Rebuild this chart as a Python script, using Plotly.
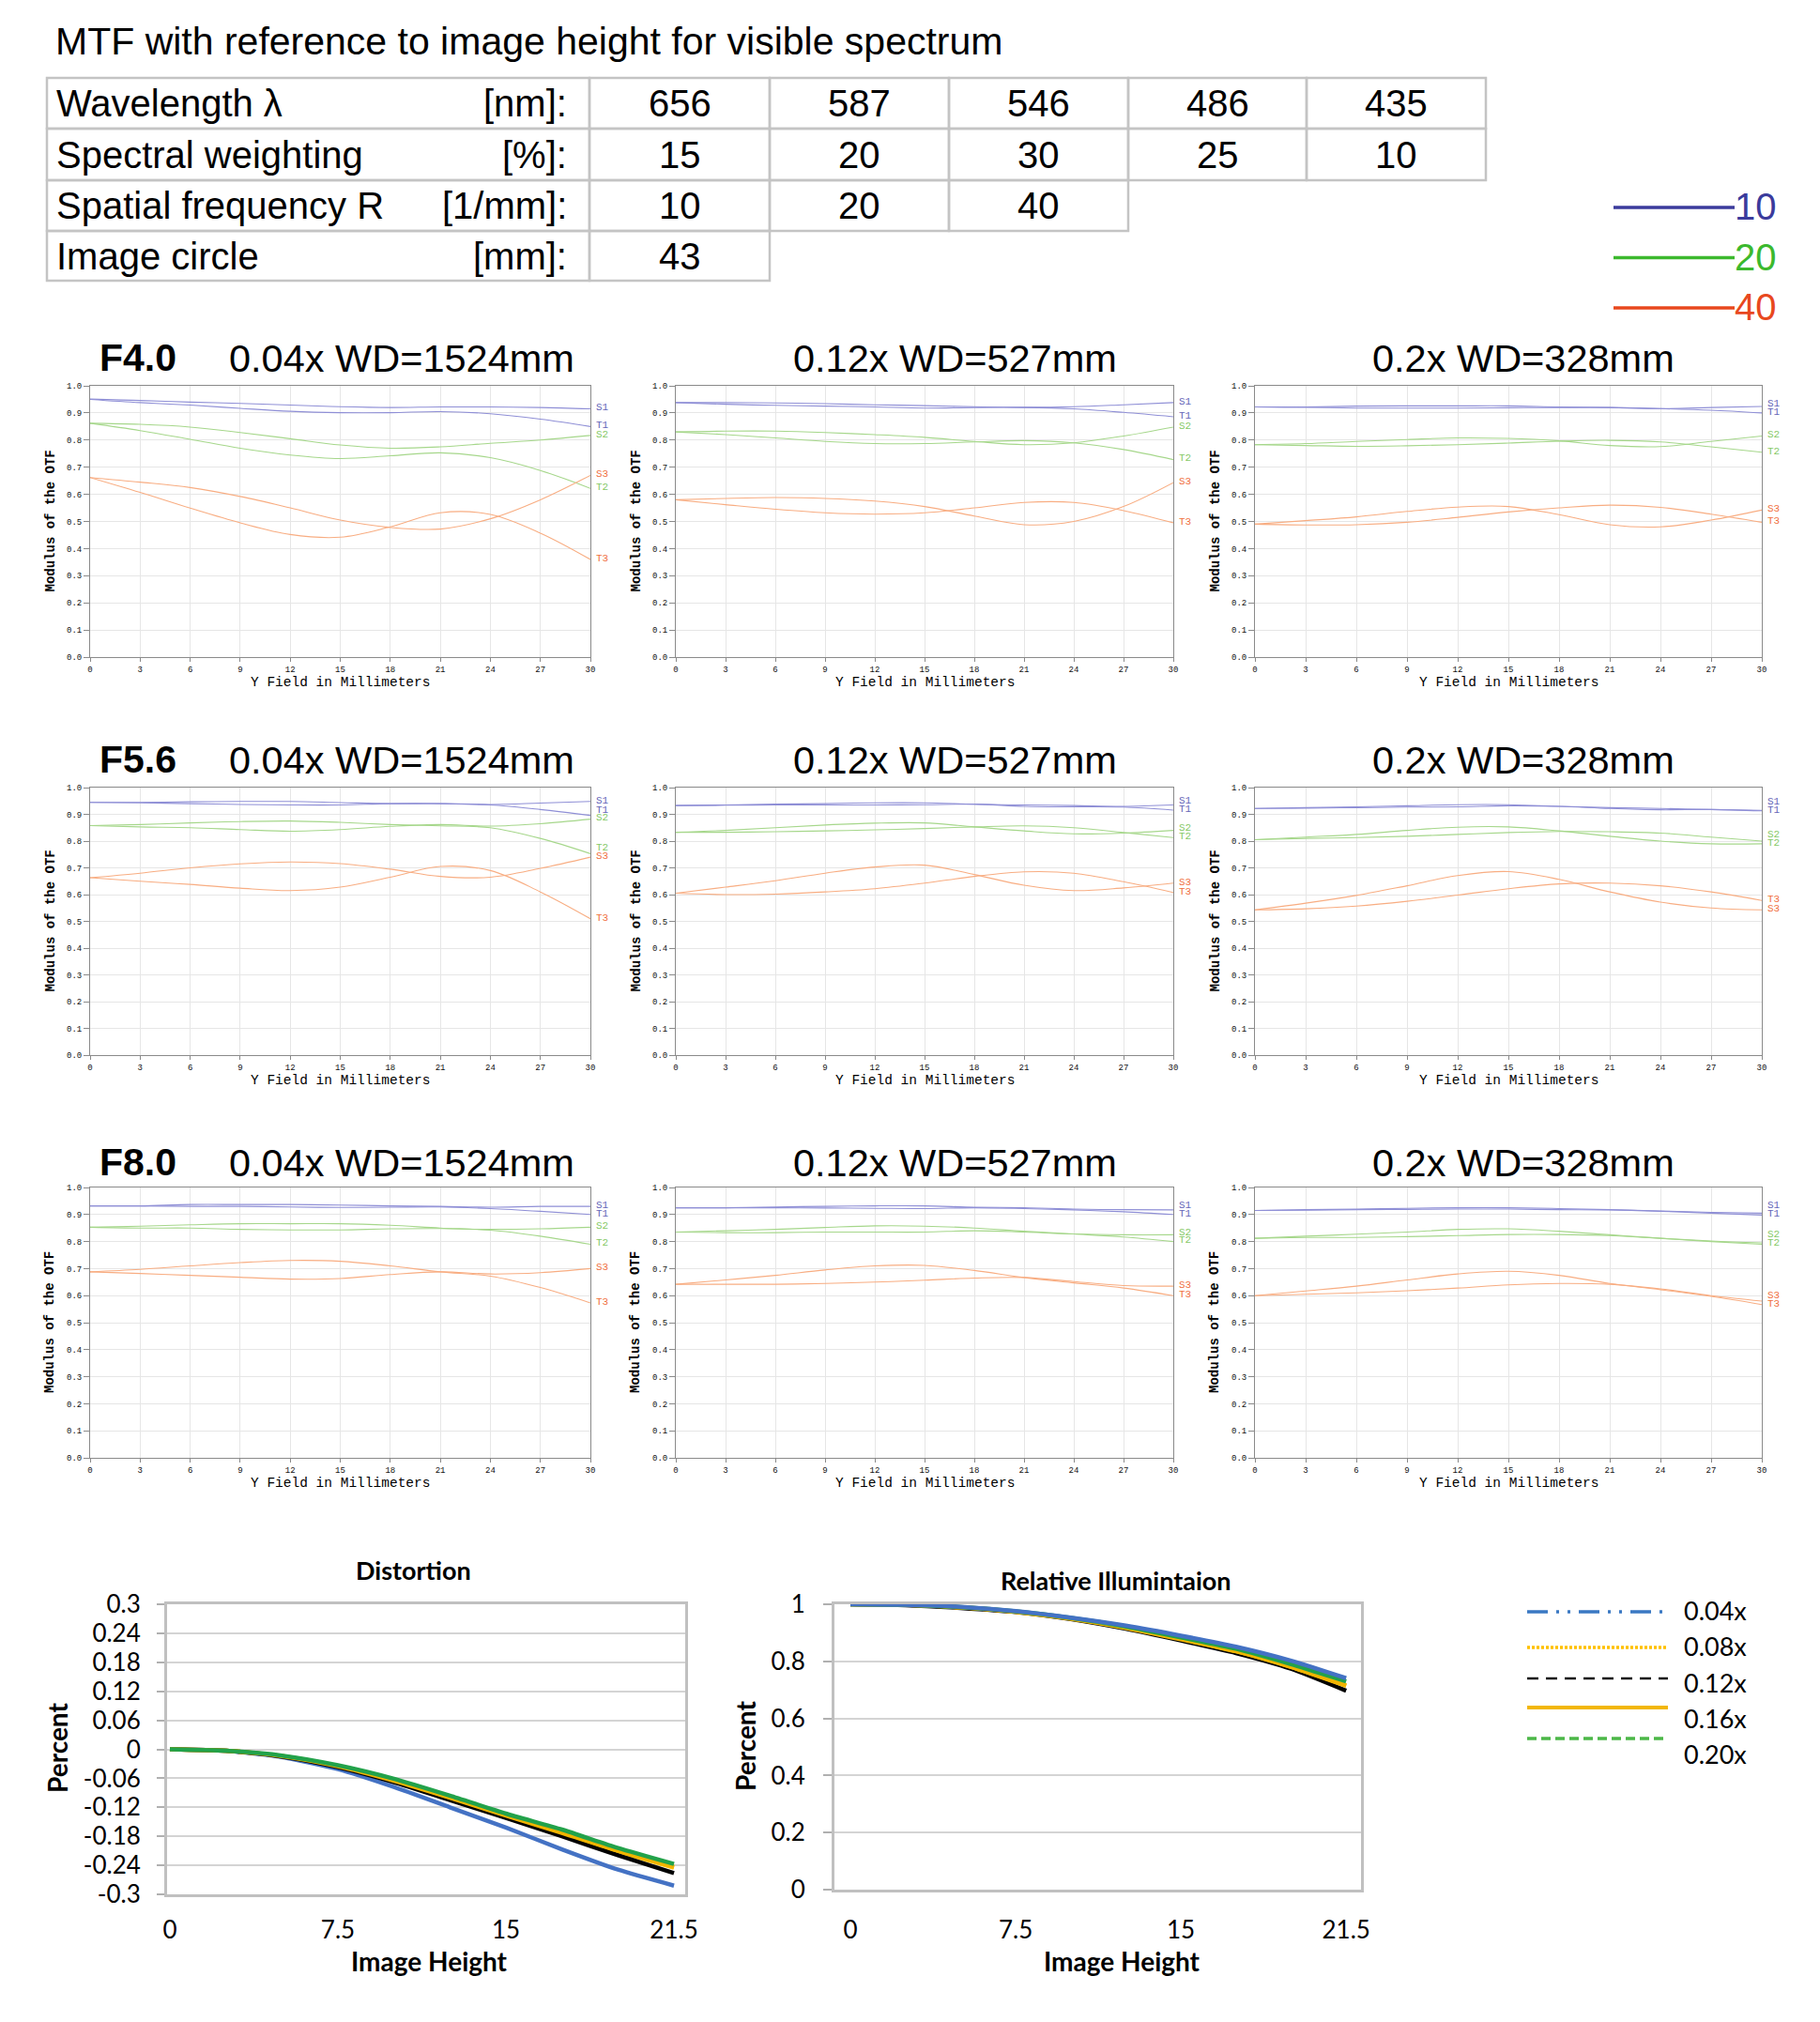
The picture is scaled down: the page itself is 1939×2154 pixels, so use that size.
import plotly.graph_objects as go

# ------------------------------------------------------------------ data
WAVELENGTHS = ["656", "587", "546", "486", "435"]
WEIGHTS = ["15", "20", "30", "25", "10"]
FREQS = ["10", "20", "40"]
IMAGE_CIRCLE = ["43"]
ROW_LABELS = ["Wavelength λ", "Spectral weighting", "Spatial frequency R", "Image circle"]
ROW_UNITS = ["[nm]:", "[%]:", "[1/mm]:", "[mm]:"]

F_NUMBERS = ["F4.0", "F5.6", "F8.0"]
MAGS = ["0.04x WD=1524mm", "0.12x WD=527mm", "0.2x WD=328mm"]
SERIES_NAMES = ["S1", "T1", "S2", "T2", "S3", "T3"]

FIELD_MM = [0, 3, 6, 9, 12, 15, 18, 21, 24, 27, 30]
MTF_X_TICKS = [0, 3, 6, 9, 12, 15, 18, 21, 24, 27, 30]

# F4.0  0.04x
F40_M04_S1 = [0.951, 0.946, 0.940, 0.935, 0.929, 0.923, 0.920, 0.922, 0.922, 0.920, 0.915]
F40_M04_T1 = [0.950, 0.938, 0.929, 0.917, 0.906, 0.901, 0.901, 0.905, 0.897, 0.877, 0.850]
F40_M04_S2 = [0.862, 0.858, 0.848, 0.828, 0.805, 0.782, 0.770, 0.775, 0.788, 0.800, 0.817]
F40_M04_T2 = [0.862, 0.835, 0.803, 0.770, 0.745, 0.732, 0.742, 0.753, 0.735, 0.688, 0.622]
F40_M04_S3 = [0.662, 0.645, 0.625, 0.592, 0.550, 0.505, 0.478, 0.472, 0.510, 0.580, 0.670]
F40_M04_T3 = [0.662, 0.607, 0.549, 0.495, 0.452, 0.442, 0.480, 0.532, 0.526, 0.457, 0.360]
# F4.0  0.12x
F40_M12_S1 = [0.938, 0.938, 0.937, 0.934, 0.930, 0.927, 0.923, 0.921, 0.923, 0.930, 0.938]
F40_M12_T1 = [0.938, 0.932, 0.928, 0.925, 0.922, 0.918, 0.920, 0.920, 0.915, 0.902, 0.886]
F40_M12_S2 = [0.830, 0.833, 0.833, 0.828, 0.820, 0.810, 0.795, 0.783, 0.790, 0.815, 0.848]
F40_M12_T2 = [0.830, 0.820, 0.808, 0.795, 0.787, 0.787, 0.793, 0.798, 0.790, 0.765, 0.728]
F40_M12_S3 = [0.580, 0.585, 0.588, 0.585, 0.575, 0.555, 0.520, 0.488, 0.500, 0.555, 0.643]
F40_M12_T3 = [0.580, 0.562, 0.545, 0.532, 0.527, 0.532, 0.550, 0.570, 0.570, 0.540, 0.495]
# F4.0  0.2x
F40_M20_S1 = [0.922, 0.922, 0.925, 0.926, 0.926, 0.926, 0.922, 0.920, 0.916, 0.920, 0.924]
F40_M20_T1 = [0.922, 0.921, 0.918, 0.918, 0.918, 0.919, 0.920, 0.920, 0.916, 0.910, 0.900]
F40_M20_S2 = [0.783, 0.787, 0.795, 0.802, 0.808, 0.806, 0.797, 0.780, 0.776, 0.795, 0.815]
F40_M20_T2 = [0.783, 0.780, 0.777, 0.779, 0.783, 0.789, 0.796, 0.799, 0.793, 0.775, 0.755]
F40_M20_S3 = [0.490, 0.503, 0.517, 0.537, 0.553, 0.555, 0.525, 0.488, 0.480, 0.505, 0.542]
F40_M20_T3 = [0.490, 0.487, 0.488, 0.497, 0.515, 0.535, 0.550, 0.560, 0.552, 0.527, 0.497]
# F5.6  0.04x
F56_M04_S1 = [0.945, 0.945, 0.947, 0.948, 0.948, 0.944, 0.940, 0.940, 0.937, 0.942, 0.948]
F56_M04_T1 = [0.945, 0.943, 0.940, 0.937, 0.935, 0.935, 0.940, 0.940, 0.935, 0.918, 0.896]
F56_M04_S2 = [0.858, 0.853, 0.850, 0.843, 0.837, 0.843, 0.855, 0.862, 0.856, 0.865, 0.882]
F56_M04_T2 = [0.858, 0.862, 0.868, 0.873, 0.875, 0.870, 0.862, 0.857, 0.850, 0.810, 0.753]
F56_M04_S3 = [0.663, 0.680, 0.700, 0.715, 0.722, 0.716, 0.695, 0.668, 0.665, 0.698, 0.740]
F56_M04_T3 = [0.663, 0.650, 0.638, 0.624, 0.615, 0.628, 0.665, 0.705, 0.690, 0.610, 0.510]
# F5.6  0.12x
F56_M12_S1 = [0.933, 0.935, 0.938, 0.940, 0.943, 0.943, 0.938, 0.935, 0.933, 0.930, 0.935]
F56_M12_T1 = [0.933, 0.934, 0.935, 0.935, 0.935, 0.936, 0.938, 0.930, 0.928, 0.927, 0.916]
F56_M12_S2 = [0.833, 0.840, 0.850, 0.860, 0.867, 0.868, 0.853, 0.838, 0.827, 0.830, 0.840]
F56_M12_T2 = [0.833, 0.833, 0.835, 0.838, 0.842, 0.847, 0.853, 0.857, 0.850, 0.832, 0.813]
F56_M12_S3 = [0.605, 0.628, 0.652, 0.680, 0.703, 0.710, 0.675, 0.635, 0.615, 0.625, 0.643]
F56_M12_T3 = [0.605, 0.600, 0.602, 0.610, 0.622, 0.643, 0.668, 0.685, 0.680, 0.648, 0.608]
# F5.6  0.2x
F56_M20_S1 = [0.922, 0.925, 0.928, 0.932, 0.936, 0.936, 0.930, 0.925, 0.922, 0.918, 0.915]
F56_M20_T1 = [0.922, 0.923, 0.925, 0.927, 0.928, 0.932, 0.930, 0.922, 0.917, 0.918, 0.913]
F56_M20_S2 = [0.805, 0.810, 0.813, 0.818, 0.825, 0.832, 0.836, 0.835, 0.830, 0.815, 0.800]
F56_M20_T2 = [0.805, 0.815, 0.825, 0.840, 0.852, 0.853, 0.838, 0.818, 0.800, 0.790, 0.790]
F56_M20_S3 = [0.543, 0.568, 0.597, 0.633, 0.671, 0.686, 0.657, 0.610, 0.572, 0.550, 0.543]
F56_M20_T3 = [0.543, 0.547, 0.557, 0.575, 0.598, 0.622, 0.640, 0.643, 0.633, 0.610, 0.578]
# F8.0  0.04x
F80_M04_S1 = [0.932, 0.932, 0.937, 0.937, 0.937, 0.935, 0.932, 0.930, 0.927, 0.930, 0.930]
F80_M04_T1 = [0.932, 0.932, 0.930, 0.930, 0.928, 0.926, 0.927, 0.928, 0.922, 0.912, 0.900]
F80_M04_S2 = [0.853, 0.850, 0.850, 0.845, 0.843, 0.843, 0.847, 0.848, 0.845, 0.847, 0.853]
F80_M04_T2 = [0.853, 0.857, 0.862, 0.866, 0.866, 0.866, 0.860, 0.850, 0.842, 0.820, 0.790]
F80_M04_S3 = [0.688, 0.682, 0.675, 0.668, 0.661, 0.663, 0.678, 0.688, 0.680, 0.685, 0.700]
F80_M04_T3 = [0.688, 0.697, 0.710, 0.722, 0.730, 0.727, 0.710, 0.688, 0.672, 0.630, 0.573]
# F8.0  0.12x
F80_M12_S1 = [0.925, 0.925, 0.928, 0.930, 0.932, 0.932, 0.927, 0.925, 0.920, 0.918, 0.917]
F80_M12_T1 = [0.925, 0.925, 0.925, 0.924, 0.923, 0.922, 0.925, 0.922, 0.917, 0.910, 0.900]
F80_M12_S2 = [0.835, 0.833, 0.833, 0.835, 0.835, 0.835, 0.840, 0.835, 0.828, 0.825, 0.825]
F80_M12_T2 = [0.835, 0.840, 0.845, 0.852, 0.858, 0.857, 0.850, 0.838, 0.828, 0.817, 0.800]
F80_M12_S3 = [0.642, 0.642, 0.642, 0.645, 0.650, 0.657, 0.665, 0.667, 0.652, 0.637, 0.635]
F80_M12_T3 = [0.642, 0.658, 0.675, 0.695, 0.710, 0.712, 0.693, 0.667, 0.647, 0.628, 0.600]
# F8.0  0.2x
F80_M20_S1 = [0.915, 0.918, 0.920, 0.923, 0.925, 0.925, 0.922, 0.918, 0.913, 0.908, 0.905]
F80_M20_T1 = [0.915, 0.916, 0.918, 0.919, 0.920, 0.920, 0.918, 0.917, 0.912, 0.905, 0.898]
F80_M20_S2 = [0.812, 0.815, 0.815, 0.818, 0.822, 0.826, 0.826, 0.822, 0.812, 0.802, 0.795]
F80_M20_T2 = [0.812, 0.820, 0.827, 0.835, 0.845, 0.847, 0.838, 0.825, 0.812, 0.800, 0.790]
F80_M20_S3 = [0.600, 0.605, 0.610, 0.618, 0.628, 0.640, 0.645, 0.642, 0.625, 0.600, 0.580]
F80_M20_T3 = [0.600, 0.617, 0.635, 0.658, 0.680, 0.690, 0.675, 0.645, 0.622, 0.597, 0.567]

# Distortion / relative illumination (Excel category axis)
HEIGHTS = ["0", "2.5", "5", "7.5", "10", "12.5", "15", "17.5", "20", "21.5"]
HEIGHT_TICKS = ["0", "7.5", "15", "21.5"]
MAG_NAMES = ["0.04x", "0.08x", "0.12x", "0.16x", "0.20x"]

DIST_004 = [0, -0.003, -0.016, -0.041, -0.078, -0.120, -0.162, -0.207, -0.249, -0.282]
DIST_008 = [0, -0.003, -0.014, -0.035, -0.066, -0.101, -0.138, -0.174, -0.211, -0.245]
DIST_012 = [0, -0.003, -0.015, -0.037, -0.068, -0.105, -0.142, -0.180, -0.219, -0.256]
DIST_016 = [0, -0.003, -0.014, -0.035, -0.065, -0.100, -0.137, -0.173, -0.210, -0.243]
DIST_020 = [0, -0.003, -0.013, -0.033, -0.061, -0.096, -0.133, -0.166, -0.204, -0.237]
DIST_TICKS = [0.3, 0.24, 0.18, 0.12, 0.06, 0, -0.06, -0.12, -0.18, -0.24, -0.3]

RI_004 = [1.0, 0.998, 0.991, 0.976, 0.953, 0.925, 0.890, 0.851, 0.802, 0.741]
RI_008 = [1.0, 0.998, 0.989, 0.974, 0.950, 0.919, 0.879, 0.836, 0.781, 0.716]
RI_012 = [1.0, 0.997, 0.987, 0.973, 0.948, 0.914, 0.873, 0.829, 0.774, 0.697]
RI_016 = [1.0, 0.998, 0.989, 0.974, 0.950, 0.917, 0.877, 0.835, 0.780, 0.714]
RI_020 = [1.0, 0.998, 0.990, 0.975, 0.952, 0.922, 0.884, 0.844, 0.790, 0.730]
RI_TICKS = [0, 0.2, 0.4, 0.6, 0.8, 1]

# ------------------------------------------------------------------ styles / geometry
W, H = 1923, 2138          # figure size (page body has an 8px margin)
OX, OY = 8, 8

SANS = "Liberation Sans, Arial, sans-serif"
MONO = "Liberation Mono, Courier New, monospace"
XL = "Lato, Carlito, Calibri, sans-serif"

FREQ_COLORS = ["#3b3b9c", "#3cb92e", "#e8481e"]
MTF_LINE = ["#8f8fd6", "#a6d78b", "#f8ad82"]
MTF_LABEL = ["#6565b8", "#86c966", "#f0703e"]

MAG_COLORS = ["#4472c4", "#ffc000", "#000000", "#f0b400", "#22a24a"]
LEG_COLORS = ["#3a78c3", "#ffc000", "#111111", "#f2b705", "#4cb848"]
LEG_DASH = ["22px,9px,3px,9px,3px,9px", "3px,2px", "12px,8px", "solid", "10px,5px"]
LEG_WIDTH = [3.5, 3.5, 2.5, 4, 3.5]


def fx(x):
    return (x - OX) / W


def fy(y):
    return 1 - (y - OY) / H


fig = go.Figure()
annotations = []
shapes = []
layout = {}


def ann(text, x, y, size, color="#000", family=SANS, xanchor="center",
        yanchor="middle", angle=0, xref="paper", yref="paper"):
    annotations.append(dict(
        text=text, x=fx(x) if xref == "paper" else x,
        y=fy(y) if yref == "paper" else y,
        xref=xref, yref=yref, showarrow=False, xanchor=xanchor, yanchor=yanchor,
        textangle=angle, font=dict(size=size, color=color, family=family)))


# ------------------------------------------------------------------ header
ann("MTF with reference to image height for visible spectrum", 57, 44, 41, xanchor="left")

COL_EDGES = [50, 628, 820, 1011, 1202, 1392, 1583]
ROW_EDGES = [83, 137, 192, 246, 299]
table_values = [WAVELENGTHS, WEIGHTS, FREQS, IMAGE_CIRCLE]
for r, vals in enumerate(table_values):
    y0, y1 = ROW_EDGES[r], ROW_EDGES[r + 1]
    yc = (y0 + y1) / 2
    for c in range(len(vals) + 1):
        shapes.append(dict(type="rect", xref="paper", yref="paper",
                           x0=fx(COL_EDGES[c]), x1=fx(COL_EDGES[c + 1]),
                           y0=fy(y1), y1=fy(y0),
                           line=dict(color="#c4c4c4", width=2.5)))
    ann(ROW_LABELS[r], 58, yc, 40, xanchor="left")
    ann(ROW_UNITS[r], 606, yc, 40, xanchor="right")
    for c, v in enumerate(vals):
        ann(v, (COL_EDGES[c + 1] + COL_EDGES[c + 2]) / 2, yc, 40)

# frequency legend (10 / 20 / 40)
for i, f in enumerate(FREQS):
    yy = 221 + i * 53.5
    shapes.append(dict(type="line", xref="paper", yref="paper",
                       x0=fx(1719), x1=fx(1848), y0=fy(yy), y1=fy(yy),
                       line=dict(color=FREQ_COLORS[i], width=3.5)))
    ann(f, 1846, yy - 1, 40, color=FREQ_COLORS[i], xanchor="left")

# ------------------------------------------------------------------ MTF panels
mtf_panels = [
    [F40_M04_S1, F40_M04_T1, F40_M04_S2, F40_M04_T2, F40_M04_S3, F40_M04_T3],
    [F40_M12_S1, F40_M12_T1, F40_M12_S2, F40_M12_T2, F40_M12_S3, F40_M12_T3],
    [F40_M20_S1, F40_M20_T1, F40_M20_S2, F40_M20_T2, F40_M20_S3, F40_M20_T3],
    [F56_M04_S1, F56_M04_T1, F56_M04_S2, F56_M04_T2, F56_M04_S3, F56_M04_T3],
    [F56_M12_S1, F56_M12_T1, F56_M12_S2, F56_M12_T2, F56_M12_S3, F56_M12_T3],
    [F56_M20_S1, F56_M20_T1, F56_M20_S2, F56_M20_T2, F56_M20_S3, F56_M20_T3],
    [F80_M04_S1, F80_M04_T1, F80_M04_S2, F80_M04_T2, F80_M04_S3, F80_M04_T3],
    [F80_M12_S1, F80_M12_T1, F80_M12_S2, F80_M12_T2, F80_M12_S3, F80_M12_T3],
    [F80_M20_S1, F80_M20_T1, F80_M20_S2, F80_M20_T2, F80_M20_S3, F80_M20_T3],
]
COL_X = [(96, 629), (720, 1250), (1337, 1877)]
ROW_Y = [(411, 700), (839, 1124), (1265, 1553)]
TITLE_Y = [381, 809, 1238]
MAG_X = [428, 1017, 1623]
LABEL_GAP = 0.031

for k, series in enumerate(mtf_panels):
    r, c = divmod(k, 3)
    n = k + 1
    xr = "x" if n == 1 else f"x{n}"
    yr = "y" if n == 1 else f"y{n}"
    (x0, x1), (y0, y1) = COL_X[c], ROW_Y[r]
    layout["xaxis" if n == 1 else f"xaxis{n}"] = dict(
        domain=[fx(x0), fx(x1)], anchor=yr, range=[0, 30], tickvals=MTF_X_TICKS,
        showgrid=True, gridcolor="#e6e6e6", gridwidth=1, zeroline=False,
        showline=True, mirror=True, linecolor="#8a8a8a", linewidth=1,
        ticks="outside", ticklen=4, tickcolor="#8a8a8a", automargin=False,
        tickfont=dict(family=MONO, size=9, color="#111"))
    layout["yaxis" if n == 1 else f"yaxis{n}"] = dict(
        domain=[fy(y1), fy(y0)], anchor=xr, range=[0, 1], dtick=0.1, tickformat=".1f",
        showgrid=True, gridcolor="#e6e6e6", gridwidth=1, zeroline=False,
        showline=True, mirror=True, linecolor="#8a8a8a", linewidth=1,
        ticks="outside", ticklen=6, tickcolor="#8a8a8a", automargin=False,
        tickfont=dict(family=MONO, size=9, color="#111"))
    for i, vals in enumerate(series):
        fig.add_trace(go.Scatter(
            x=FIELD_MM, y=vals, xaxis=xr, yaxis=yr, mode="lines",
            line=dict(color=MTF_LINE[i // 2], width=1.1, shape="spline", smoothing=1.0),
            showlegend=False, hoverinfo="skip"))
    # end-of-curve labels, pushed upward to avoid overlap
    ends = sorted([(vals[-1], i) for i, vals in enumerate(series)])
    placed = []
    for v, i in ends:
        yv = v + 0.004
        if placed and yv < placed[-1] + LABEL_GAP:
            yv = placed[-1] + LABEL_GAP
        placed.append(yv)
        ann(SERIES_NAMES[i], x1 + 4, yv, 11, color=MTF_LABEL[i // 2], family=MONO,
            xanchor="left", yref=yr)
    # axis titles
    ann("<b>Modulus of the OTF</b>", x0 - 43, (y0 + y1) / 2, 14, family=MONO, angle=-90)
    ann("Y Field in Millimeters", (x0 + x1) / 2, y1 + 27, 14.5, family=MONO)
    # panel titles
    if c == 0:
        ann("<b>" + F_NUMBERS[r] + "</b>", 104, TITLE_Y[r], 41, xanchor="left")
    ann(MAGS[c], MAG_X[c], TITLE_Y[r], 41.5)

# ------------------------------------------------------------------ distortion / RI
dist_series = [DIST_004, DIST_008, DIST_012, DIST_016, DIST_020]
ri_series = [RI_004, RI_008, RI_012, RI_016, RI_020]

DX = (178, 730)
DY = (1709, 2018)
RX = (889, 1450)
RY = (1709, 2013)

common_x = dict(type="category", categoryorder="array", categoryarray=HEIGHTS,
                tickvals=HEIGHT_TICKS, ticktext=HEIGHT_TICKS, showgrid=False,
                zeroline=False, showline=True, mirror=True, linecolor="#c0c0c0",
                linewidth=3, ticks="", automargin=False,
                tickfont=dict(family=XL, size=26, color="#000"))
layout["xaxis10"] = dict(common_x, domain=[fx(DX[0]), fx(DX[1])], anchor="y10",
                         range=[-0.05, 9.2], ticklabelstandoff=13)
layout["yaxis10"] = dict(domain=[fy(DY[1]), fy(DY[0])], anchor="x10", range=[-0.3, 0.3],
                         tickvals=DIST_TICKS, ticktext=[f"{v:g}" for v in DIST_TICKS],
                         showgrid=True, gridcolor="#d4d4d4", gridwidth=2, zeroline=False,
                         showline=True, mirror=True, linecolor="#c0c0c0", linewidth=3,
                         ticks="outside", ticklen=8, tickwidth=2, tickcolor="#b0b0b0",
                         ticklabelstandoff=12, automargin=False,
                         tickfont=dict(family=XL, size=26, color="#000"))
layout["xaxis11"] = dict(common_x, domain=[fx(RX[0]), fx(RX[1])], anchor="y11",
                         range=[-0.29, 9.27], ticklabelstandoff=18)
layout["yaxis11"] = dict(domain=[fy(RY[1]), fy(RY[0])], anchor="x11", range=[0, 1],
                         tickvals=RI_TICKS, ticktext=[f"{v:g}" for v in RI_TICKS],
                         showgrid=True, gridcolor="#d4d4d4", gridwidth=2, zeroline=False,
                         showline=True, mirror=True, linecolor="#c0c0c0", linewidth=3,
                         ticks="outside", ticklen=9, tickwidth=2, tickcolor="#b0b0b0",
                         ticklabelstandoff=14, automargin=False,
                         tickfont=dict(family=XL, size=26, color="#000"))

for i in [0, 1, 2, 3, 4]:
    fig.add_trace(go.Scatter(
        x=HEIGHTS, y=dist_series[i], xaxis="x10", yaxis="y10", mode="lines",
        name=MAG_NAMES[i], line=dict(color=MAG_COLORS[i], width=4.5, shape="spline", smoothing=0.6),
        showlegend=False, hoverinfo="skip"))
for i in [2, 1, 3, 4, 0]:
    fig.add_trace(go.Scatter(
        x=HEIGHTS, y=ri_series[i], xaxis="x11", yaxis="y11", mode="lines",
        name=MAG_NAMES[i], line=dict(color=MAG_COLORS[i], width=4.5, shape="spline", smoothing=0.6),
        showlegend=False, hoverinfo="skip"))

ann("<b>Distortion</b>", 440, 1672, 27, family=XL)
ann("<b>Relative Illumintaion</b>", 1189, 1683, 27, family=XL)
ann("<b>Percent</b>", 61, 1862, 28, family=XL, angle=-90)
ann("<b>Percent</b>", 794, 1860, 28, family=XL, angle=-90)
ann("<b>Image Height</b>", 457, 2089, 28, family=XL)
ann("<b>Image Height</b>", 1195, 2089, 28, family=XL)

# magnification legend
LEG_LINE_Y = [1717, 1755, 1788, 1819, 1852]
LEG_TEXT_Y = [1715, 1753, 1792, 1830, 1868]
for i, name in enumerate(MAG_NAMES):
    shapes.append(dict(type="line", xref="paper", yref="paper",
                       x0=fx(1627), x1=fx(1777), y0=fy(LEG_LINE_Y[i]), y1=fy(LEG_LINE_Y[i]),
                       line=dict(color=LEG_COLORS[i], width=LEG_WIDTH[i], dash=LEG_DASH[i])))
    ann(name, 1792, LEG_TEXT_Y[i], 27, family=XL, xanchor="left")

fig.update_layout(
    width=W, height=H, margin=dict(l=0, r=0, t=0, b=0, pad=0, autoexpand=False),
    paper_bgcolor="white", plot_bgcolor="white", showlegend=False,
    annotations=annotations, shapes=shapes, **layout)

fig.write_html("out.html")
